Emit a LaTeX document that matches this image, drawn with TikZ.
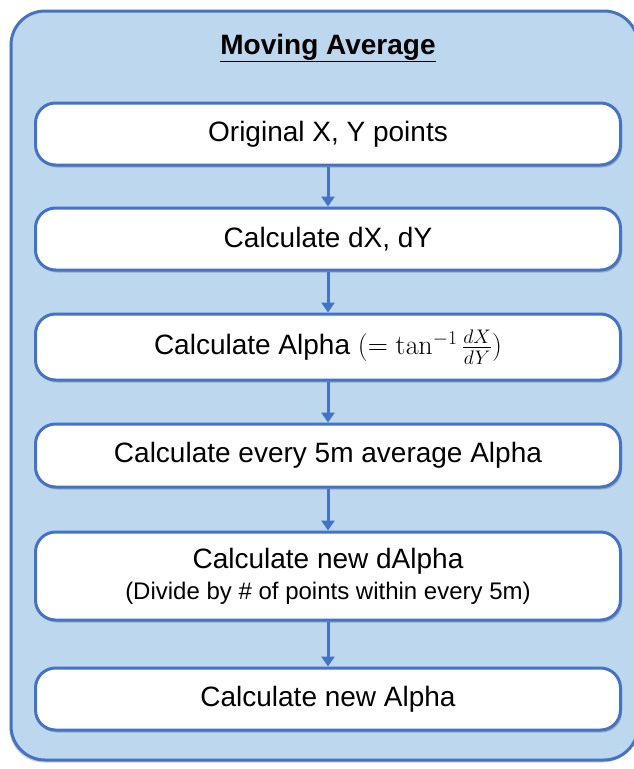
\RequirePackage{fix-cm}
\documentclass[tikz,border=0pt]{standalone}
\usepackage[no-math]{fontspec}
\setmainfont{Liberation Sans}
\usetikzlibrary{arrows.meta,shadows}
\definecolor{frameblue}{HTML}{4472C4}
\definecolor{bgblue}{HTML}{BDD7EE}
\begin{document}
\begin{tikzpicture}[x=1pt,y=-1pt,
  outerbox/.style={draw=frameblue,line width=3pt,fill=bgblue,rounded corners=34pt,
     drop shadow={shadow xshift=-1.5pt,shadow yshift=-2.5pt,opacity=0.25,fill=black!70}},
  stepbox/.style={draw=frameblue,line width=3pt,fill=white,rounded corners=20pt,
     minimum width=585pt,inner sep=0pt,align=center,
     font=\fontsize{28}{33}\selectfont,
     drop shadow={shadow xshift=1.5pt,shadow yshift=-2.5pt,opacity=0.3,fill=black!70}},
  arr/.style={draw=frameblue,line width=3pt,-{Triangle[width=13pt,length=10pt]}},
]
\useasboundingbox (0,0) rectangle (634,769);
\draw[outerbox] (11,11) rectangle (638,760);
\node[font=\fontsize{28}{33}\selectfont\bfseries] (title) at (328,48) {\underline{Moving Average}};
\node[stepbox,minimum height=62pt] (b1) at (328,134) {Original X, Y points};
\node[stepbox,minimum height=62pt] (b2) at (328,239) {Calculate dX, dY};
\node[stepbox,minimum height=66pt] (b3) at (328,347) {Calculate Alpha $(= \mathrm{tan}^{-1}\,\frac{dX}{dY})$};
\node[stepbox,minimum height=63pt] (b4) at (328,455.5) {Calculate every 5m average Alpha};
\node[stepbox,minimum height=88pt] (b5) at (328,576) {Calculate new dAlpha\\[-2pt]{\fontsize{24}{28}\selectfont (Divide by \# of points within every 5m)}};
\node[stepbox,minimum height=62pt] (b6) at (328,699) {Calculate new Alpha};
\draw[arr] (b1.south) -- (b2.north);
\draw[arr] (b2.south) -- (b3.north);
\draw[arr] (b3.south) -- (b4.north);
\draw[arr] (b4.south) -- (b5.north);
\draw[arr] (b5.south) -- (b6.north);
\end{tikzpicture}
\end{document}
